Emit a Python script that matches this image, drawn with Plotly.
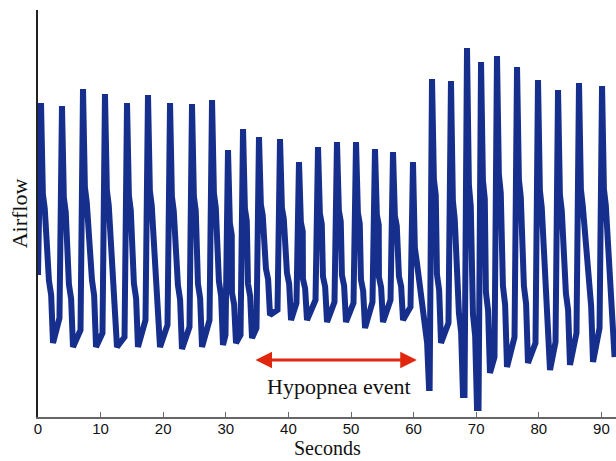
import plotly.graph_objects as go

# ---- data (time in s, airflow in arbitrary units) ----
start_t = [0.0]
start_v = [1.42]

peak_t = [0.48, 3.83, 7.19, 10.70, 14.22, 17.57, 21.09, 24.60, 27.80, 30.35,
          32.75, 35.30, 38.66, 41.69, 44.73, 47.76, 50.80, 53.83, 56.71, 59.90,
          62.94, 65.97, 68.53, 70.77, 73.32, 76.52, 79.87, 83.07, 86.42, 90.10]
peak_v = [3.14, 3.11, 3.28, 3.23, 3.14, 3.22, 3.14, 3.13, 3.17, 2.67,
          2.88, 2.80, 2.78, 2.55, 2.70, 2.75, 2.75, 2.68, 2.65, 2.55,
          3.38, 3.36, 3.69, 3.55, 3.61, 3.50, 3.37, 3.27, 3.34, 3.31]

trough_t = [2.40, 5.59, 9.27, 12.62, 15.97, 19.49, 23.00, 26.20, 29.55, 31.63,
            34.19, 37.06, 40.42, 42.97, 46.17, 49.20, 52.24, 55.11, 58.31, 62.46,
            64.38, 67.89, 70.13, 72.20, 74.92, 78.27, 81.79, 84.98, 88.66, 92.10]
trough_v = [0.74, 0.70, 0.70, 0.70, 0.70, 0.70, 0.68, 0.70, 0.72, 0.74,
            0.79, 1.02, 0.97, 0.97, 0.95, 0.95, 0.89, 0.95, 0.97, 0.29,
            0.74, 0.22, 0.09, 0.44, 0.50, 0.54, 0.47, 0.52, 0.55, 0.60]

# level reached just before each following inspiration
plateau_v = [0.99, 0.87, 0.84, 0.80, 0.97, 0.92, 0.90, 0.97, 0.82, 0.82,
             0.89, 1.07, 1.14, 1.17, 1.15, 1.14, 1.15, 1.17, 1.10, 0.29,
             0.94, 0.22, 0.09, 0.60, 0.80, 0.74, 0.75, 0.84, 0.89]

x_ticks = [0, 10, 20, 30, 40, 50, 60, 70, 80, 90]

event_start, event_end = 34.5, 60.5
event_y = 0.57
event_label = "Hypopnea event"

# ---- assemble the trace from the read breath landmarks ----
ts, vs = list(start_t), list(start_v)
n = len(peak_t)
for i in range(n):
    tp, P = peak_t[i], peak_v[i]
    tt, T = trough_t[i], trough_v[i]
    A = P - T
    pts = [(tp, P),
           (tp + 0.30, T + 0.62 * A),
           (tp + 0.60, T + 0.56 * A),
           (tt - 0.65, T + 0.26 * A),
           (tt - 0.30, T + 0.20 * A),
           (tt, T)]
    if i + 1 < n:
        tn = peak_t[i + 1]
        pts.append((max(tt + 0.1, tn - 0.40), plateau_v[i]))
    for t, v in pts:
        ts.append(t)
        vs.append(v)

fig = go.Figure()
fig.add_trace(go.Scatter(x=ts, y=vs, mode="lines",
                         line=dict(color="#172f8c", width=6),
                         hoverinfo="skip", showlegend=False))

fig.add_annotation(x=event_end, y=event_y, ax=event_start, ay=event_y,
                   xref="x", yref="y", axref="x", ayref="y",
                   text="", showarrow=True, arrowhead=2, arrowside="end+start",
                   arrowsize=1.1, arrowwidth=3, arrowcolor="#e0260c")
fig.add_annotation(x=(event_start + event_end) / 2 + 0.6, y=event_y - 0.26,
                   xref="x", yref="y", text=event_label, showarrow=False,
                   font=dict(family="Liberation Serif", size=22, color="#111"))

# x-axis title placed as a paper annotation just below the tick labels
fig.add_annotation(x=0.5, y=-0.1055, xref="paper", yref="paper",
                   xanchor="center", yanchor="bottom", text="Seconds",
                   showarrow=False, borderpad=0,
                   font=dict(family="Liberation Serif", size=20, color="#111"))

fig.update_layout(
    width=616, height=461,
    margin=dict(l=38, r=0, t=10, b=44),
    paper_bgcolor="white", plot_bgcolor="white",
    xaxis=dict(range=[0, 92.33], tickvals=x_ticks, ticks="inside", ticklen=5,
               tickcolor="#666", showline=True, linecolor="#666", linewidth=1.5,
               showgrid=False, zeroline=False, ticklabelstandoff=-3,
               tickfont=dict(family="Liberation Sans", size=15, color="#111")),
    yaxis=dict(range=[0, 4.07], showticklabels=False, ticks="",
               showline=True, linecolor="#222", linewidth=1.5,
               showgrid=False, zeroline=False,
               title=dict(text="Airflow", standoff=3,
                          font=dict(family="Liberation Serif", size=22, color="#111"))),
)

fig.write_html("out.html")
